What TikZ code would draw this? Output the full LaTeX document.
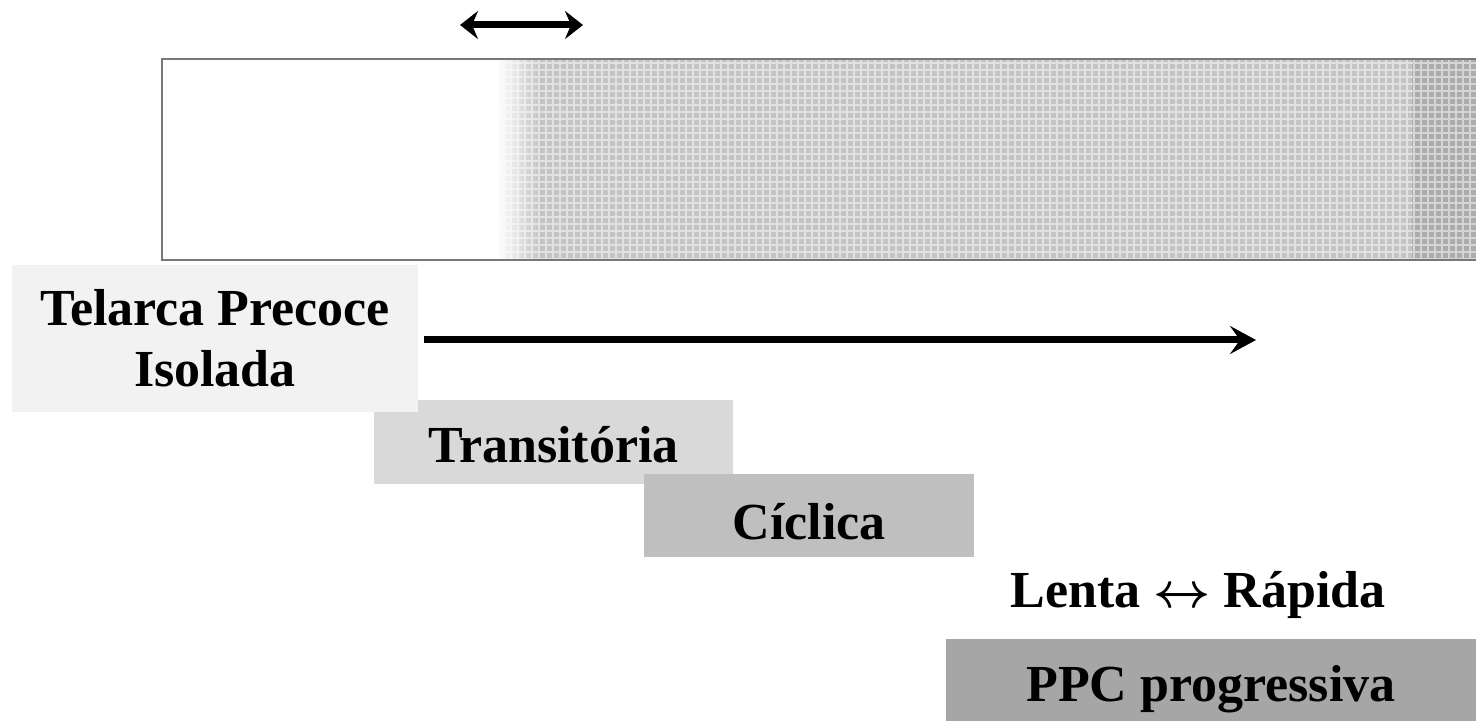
\documentclass[tikz,border=0pt]{standalone}
\usepackage{amsmath}
\usepackage{fontspec}
\setmainfont{Liberation Serif}
\usetikzlibrary{arrows.meta,positioning}
\definecolor{stageone}{RGB}{242,242,242}
\definecolor{stagetwo}{RGB}{217,217,217}
\definecolor{stagethree}{RGB}{191,191,191}
\definecolor{stagefour}{RGB}{166,166,166}
\definecolor{bandgray}{RGB}{196,196,196}
\definecolor{framegray}{RGB}{120,120,120}

\begin{document}
\begin{tikzpicture}[
    x=0.5pt, y=-0.5pt,
    stage/.style={fill=#1,inner sep=0pt,font=\fontsize{26}{30.5}\selectfont\bfseries,align=center},
    onerow/.style={text height=20pt,text depth=0pt},
    bigarrow/.style={line width=3.5pt,-{Stealth[length=13pt,width=14pt,inset=5pt]}},
    >=Stealth
]
\useasboundingbox (0,0) rectangle (1476,721);
% progression band
\shade[left color=white,right color=bandgray] (496,60) rectangle (540,259);
\fill[bandgray] (540,60) rectangle (1412,259);
\fill[bandgray!88!black] (1412,60) rectangle (1476,259);
\draw[white,opacity=0.5,line width=0.7pt,step=3.5pt] (497,60) grid (1476,259);
\draw[framegray,line width=1.3pt] (1490,59) -- (162,59) -- (162,260) -- (1490,260);

\coordinate (wl) at (460,25);
\coordinate (wr) at (583,25);
\draw[line width=3.5pt,{Stealth[length=9pt,width=14pt,inset=3pt]}-{Stealth[length=9pt,width=14pt,inset=3pt]}] (wl) -- (wr);

\node[stage=stagetwo,onerow,minimum width=179.5pt,minimum height=42pt] (trans) at (553.5,442) {Transitória};
\node[stage=stageone,minimum width=203pt,minimum height=73.5pt] (telarca) at (215,338.5) {Telarca Precoce\\Isolada};
\node[stage=stagethree,onerow,text height=24pt,minimum width=165pt,minimum height=41.5pt] (ciclica) at (809,515.5) {Cíclica};
\node[font=\fontsize{26}{30.5}\selectfont\bfseries,anchor=base,inner sep=0pt] (ritmo) at (1198,607) {Lenta $\boldsymbol{\leftrightarrow}$ Rápida};
\node[stage=stagefour,onerow,minimum width=265pt,minimum height=42pt] (ppc) at (1211,681) {PPC progressiva};

\coordinate (fim) at (1256,340);
\draw[bigarrow] ([xshift=3pt]telarca.east |- fim) -- (fim);
\end{tikzpicture}
\end{document}
